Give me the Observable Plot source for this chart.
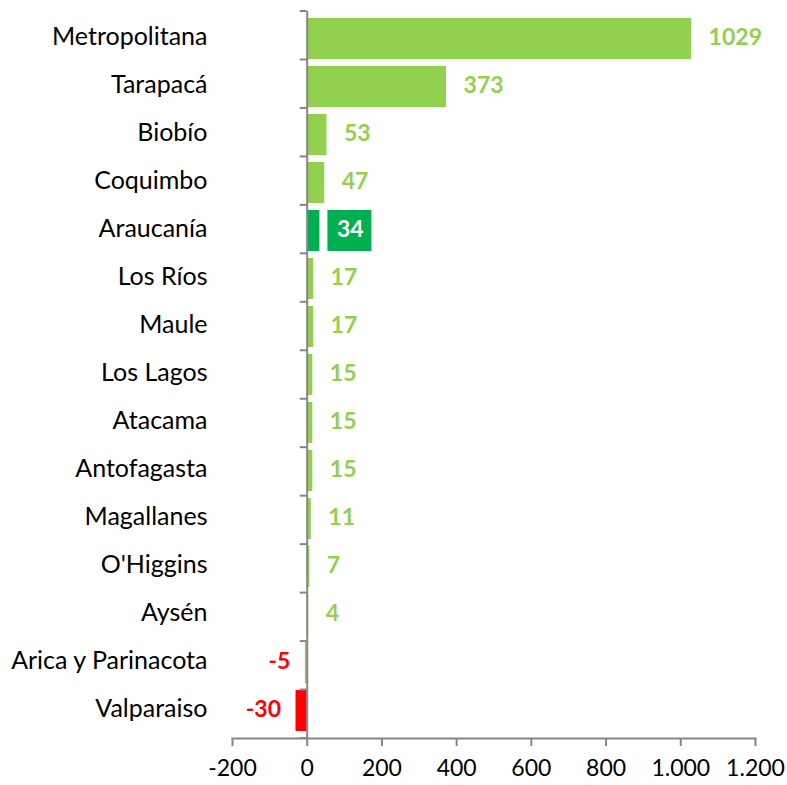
<!DOCTYPE html>
<html><head><meta charset="utf-8">
<script src="https://cdn.jsdelivr.net/npm/d3@7"></script>
<script src="https://cdn.jsdelivr.net/npm/@observablehq/plot@0.6"></script>
<style>body{margin:0;background:#fff}#chart{width:787px;height:785px}</style>
</head><body><div id="chart"></div>
<script>
const regions = ["Metropolitana","Tarapacá","Biobío","Coquimbo","Araucanía","Los Ríos","Maule","Los Lagos","Atacama","Antofagasta","Magallanes","O'Higgins","Aysén","Arica y Parinacota","Valparaiso"];
const values = [1029,373,53,47,34,17,17,15,15,15,11,7,4,-5,-30];
const highlight = "Araucanía";
const xTicks = [-200,0,200,400,600,800,1000,1200];
const green = "#92D050", darkGreen = "#00B050", red = "#FF0000", axisGray = "#868686";

const data = regions.map((r,i)=>({region:r, value:values[i]}));
const barColor = d => d.region === highlight ? darkGreen : (d.value < -10 ? red : green);
const pos = data.filter(d => d.value >= 0 && d.region !== highlight);
const neg = data.filter(d => d.value < 0);
const hl = data.filter(d => d.region === highlight);

const fmt = d3.formatLocale({decimal:",", thousands:".", grouping:[3], currency:["",""], minus:"-"}).format(",");

function bandTicks(index, scales, values, dims) {
  const y = scales.y, x0 = scales.x(0);
  const [r0, r1] = [dims.marginTop, dims.height - dims.marginBottom];
  const n = y.domain().length;
  const g = d3.create("svg:g");
  for (let i = 0; i <= n; i++) {
    const yy = r0 + (r1 - r0) * i / n;
    g.append("line").attr("x1", x0 - 7).attr("x2", x0).attr("y1", yy).attr("y2", yy)
      .attr("stroke", axisGray).attr("stroke-width", 2);
  }
  return g.node();
}

const chart = Plot.plot({
  width: 787, height: 785,
  marginTop: 11, marginBottom: 47, marginLeft: 232, marginRight: 32,
  style: {fontFamily: "Lato", fontSize: "24px", color: "#000", background: "#fff"},
  x: {domain: [-200, 1200]},
  y: {domain: regions, paddingInner: 0.15, paddingOuter: 0.075},
  marks: [
    Plot.barX(data, {x: "value", y: "region", fill: barColor}),
    Plot.ruleX([0], {stroke: axisGray, strokeWidth: 2}),
    bandTicks,
    Plot.frame({anchor: "bottom", stroke: axisGray, strokeWidth: 2}),
    Plot.axisX({ticks: xTicks, tickFormat: fmt, tickSize: 8, tickPadding: 13, stroke: axisGray, strokeWidth: 2, fill: "#000", fontSize: 23, label: null}),
    Plot.axisY({tickSize: 0, tickPadding: 25, fill: "#000", fontSize: 25, dy: -2, label: null}),
    Plot.text(pos, {x: "value", y: "region", text: d => String(d.value), dx: 17, dy: -1, textAnchor: "start", fill: green, fontWeight: "bold", fontSize: 23}),
    Plot.text(neg, {x: "value", y: "region", text: d => String(d.value), dx: -15, dy: -1, textAnchor: "end", fill: red, fontWeight: "bold", fontSize: 23}),
    Plot.rect(hl, {x1: "value", x2: "value", y: "region", dx: 8, insetRight: -44, fill: darkGreen}),
    Plot.text(hl, {x: "value", y: "region", text: d => String(d.value), dx: 17, dy: -1, textAnchor: "start", fill: "#fff", fontWeight: "bold", fontSize: 23})
  ]
});
document.getElementById("chart").append(chart);
</script></body></html>
